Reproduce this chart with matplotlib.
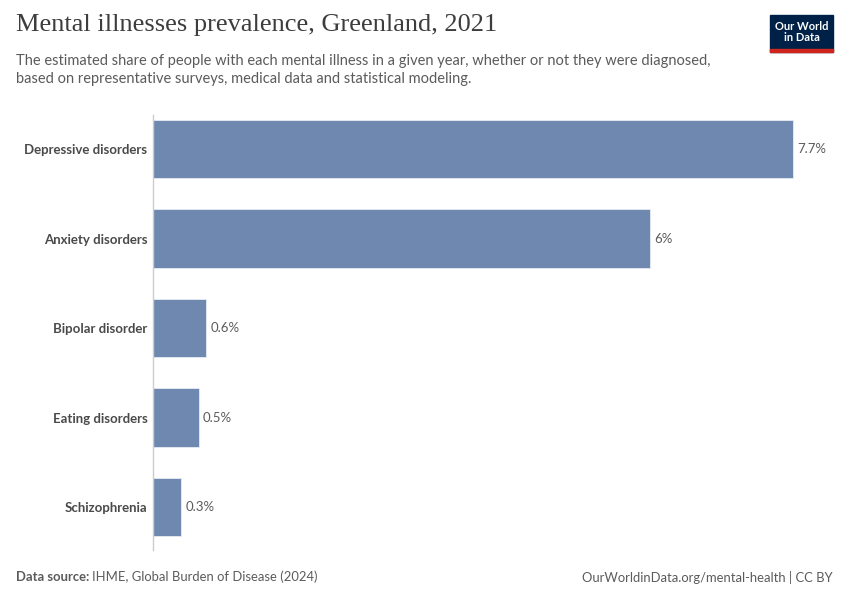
import matplotlib.pyplot as plt
from matplotlib.patches import Rectangle

# DATA
categories = ["Depressive disorders", "Anxiety disorders", "Bipolar disorder",
              "Eating disorders", "Schizophrenia"]
values = [7.7, 5.98, 0.64, 0.55, 0.34]
value_labels = ["7.7%", "6%", "0.6%", "0.5%", "0.3%"]

bar_color = "#6f88b0"
text_gray = "#5b5b5b"

plt.rcParams['font.family'] = ['Lato', 'DejaVu Sans']

fig = plt.figure(figsize=(8.5, 6), dpi=100)
ax = fig.add_axes([153 / 850, 50 / 600, (833 - 153) / 850, 435 / 600])

y = list(range(len(categories)))
ax.barh(y, values, height=0.65, color=bar_color, edgecolor="#e8ecf3", linewidth=0.6)
ax.set_xlim(0, 680 / 83.1)
ax.set_ylim(4.48, -0.38)

for yi, v, lab in zip(y, values, value_labels):
    ax.text(v + 0.05, yi, lab, va="center", ha="left", fontsize=9.5, color=text_gray)

ax.set_yticks(y)
ax.set_yticklabels(categories, fontsize=9.5, fontweight="bold", color="#4a4a4a")
ax.tick_params(axis="y", length=0, pad=4)
ax.set_xticks([])
for s in ["top", "right", "bottom"]:
    ax.spines[s].set_visible(False)
ax.spines["left"].set_color("#cccccc")
ax.spines["left"].set_linewidth(1)

# TITLES
fig.text(16 / 850, 1 - 25 / 600, "Mental illnesses prevalence, Greenland, 2021",
         family=["Liberation Serif", "DejaVu Serif"], fontsize=19, color="#3d3d3d", va="center")
fig.text(16 / 850, 1 - 70 / 600,
         "The estimated share of people with each mental illness in a given year, whether or not they were diagnosed,\n"
         "based on representative surveys, medical data and statistical modeling.",
         fontsize=10.5, color=text_gray, va="center", linespacing=1.3)

# LOGO
fig.patches.append(Rectangle((770 / 850, 1 - 52 / 600), 63 / 850, 37 / 600,
                             transform=fig.transFigure, color="#002147"))
fig.patches.append(Rectangle((770 / 850, 1 - 52 / 600), 63 / 850, 3 / 600,
                             transform=fig.transFigure, color="#ce261e"))
fig.text(801.5 / 850, 1 - 32 / 600, "Our World\nin Data", ha="center", va="center",
         fontsize=8, color="white", fontweight="bold", linespacing=1.0)

# FOOTER
src = fig.text(16 / 850, 1 - 577 / 600, "Data source:", fontsize=9.4, color=text_gray,
               va="center", fontweight="bold")
fig.canvas.draw()
bb = src.get_window_extent()
fig.text((bb.x1 + 3) / 850, 1 - 577 / 600, "IHME, Global Burden of Disease (2024)",
         fontsize=9.4, color=text_gray, va="center")
fig.text(833 / 850, 1 - 577 / 600, "OurWorldinData.org/mental-health | CC BY",
         fontsize=9.4, color=text_gray, va="center", ha="right")

fig.savefig("out.png", dpi=100)
